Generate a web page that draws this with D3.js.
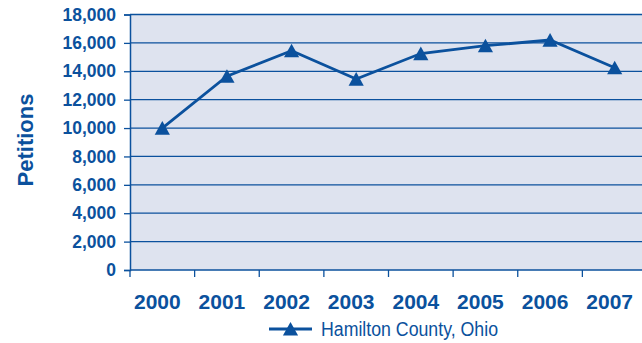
<!DOCTYPE html>
<html>
<head>
<meta charset="utf-8">
<script src="https://cdn.jsdelivr.net/npm/d3@7"></script>
<style>
  html, body { margin: 0; padding: 0; background: #fff; }
  svg { display: block; }
  text { font-family: "Liberation Sans", Arial, Helvetica, sans-serif; fill: #0b519d; }
</style>
</head>
<body>
<svg id="chart" width="642" height="343"></svg>
<script>
// Juvenile court petitions filed per year
const years = ["2000", "2001", "2002", "2003", "2004", "2005", "2006", "2007"];
const petitions = [10000, 13650, 15450, 13450, 15250, 15800, 16200, 14250];
const yTicks = [0, 2000, 4000, 6000, 8000, 10000, 12000, 14000, 16000, 18000];
const seriesName = "Hamilton County, Ohio";
const yTitle = "Petitions";

const blue = "#0b519d";
const svg = d3.select("#chart");

const x = d3.scaleBand().domain(years).range([130, 647]).padding(0);
const y = d3.scaleLinear().domain([0, 18000]).range([270, 14.5]);

// plot background
svg.append("rect")
  .attr("x", x.range()[0]).attr("y", y(18000))
  .attr("width", x.range()[1] - x.range()[0])
  .attr("height", y(0) - y(18000))
  .attr("fill", "#dee3ef");

// horizontal gridlines
svg.append("g").selectAll("line").data(yTicks.filter(d => d > 0)).join("line")
  .attr("x1", x.range()[0]).attr("x2", x.range()[1])
  .attr("y1", d => y(d)).attr("y2", d => y(d))
  .attr("stroke", blue).attr("stroke-width", 1.3);

// y axis
const yAxis = svg.append("g")
  .attr("transform", `translate(${x.range()[0]},0)`)
  .call(d3.axisLeft(y).tickValues(yTicks).tickSize(6).tickPadding(8)
    .tickFormat(d3.format(",")));
yAxis.select(".domain").attr("stroke", blue).attr("stroke-width", 1.5);
yAxis.selectAll(".tick line").attr("stroke", blue).attr("stroke-width", 1.3);
yAxis.selectAll(".tick text")
  .attr("font-size", 17.5).attr("font-weight", "bold")
  .attr("fill", blue).style("font-family", "Liberation Sans, Arial, sans-serif");

// x axis with ticks between categories
const xAxis = svg.append("g").attr("transform", `translate(0,${y(0)})`);
xAxis.append("line")
  .attr("x1", x.range()[0]).attr("x2", x.range()[1])
  .attr("stroke", blue).attr("stroke-width", 1.5);
xAxis.selectAll("line.tk").data(years).join("line")
  .attr("class", "tk")
  .attr("x1", d => x(d)).attr("x2", d => x(d))
  .attr("y1", 0).attr("y2", 7)
  .attr("stroke", blue).attr("stroke-width", 1.3);
xAxis.selectAll("text").data(years).join("text")
  .attr("x", d => x(d) + x.bandwidth() / 2 - 5)
  .attr("y", 39)
  .attr("text-anchor", "middle")
  .attr("font-size", 21).attr("font-weight", "bold")
  .text(d => d);

// y axis title
svg.append("text")
  .attr("transform", "translate(33,140) rotate(-90)")
  .attr("text-anchor", "middle")
  .attr("font-size", 22).attr("font-weight", "bold")
  .text(yTitle);

// series line
const pts = years.map((d, i) => [x(d) + x.bandwidth() / 2, y(petitions[i])]);
svg.append("path")
  .attr("d", d3.line()(pts))
  .attr("fill", "none").attr("stroke", blue)
  .attr("stroke-width", 2.8).attr("stroke-linejoin", "miter");

// triangle markers
const tri = "M0,-7L7.6,6.6L-7.6,6.6Z";
svg.append("g").selectAll("path").data(pts).join("path")
  .attr("transform", d => `translate(${d[0]},${d[1]})`)
  .attr("d", tri).attr("fill", blue);

// legend
const lg = svg.append("g").attr("transform", "translate(269,329)");
lg.append("line").attr("x1", 0).attr("x2", 43)
  .attr("stroke", blue).attr("stroke-width", 2.8);
lg.append("path").attr("transform", "translate(21.5,0)").attr("d", tri).attr("fill", blue);
lg.append("text")
  .attr("x", 52).attr("y", 7)
  .attr("font-size", 19.5)
  .attr("textLength", 177).attr("lengthAdjust", "spacingAndGlyphs")
  .text(seriesName);
</script>
</body>
</html>
